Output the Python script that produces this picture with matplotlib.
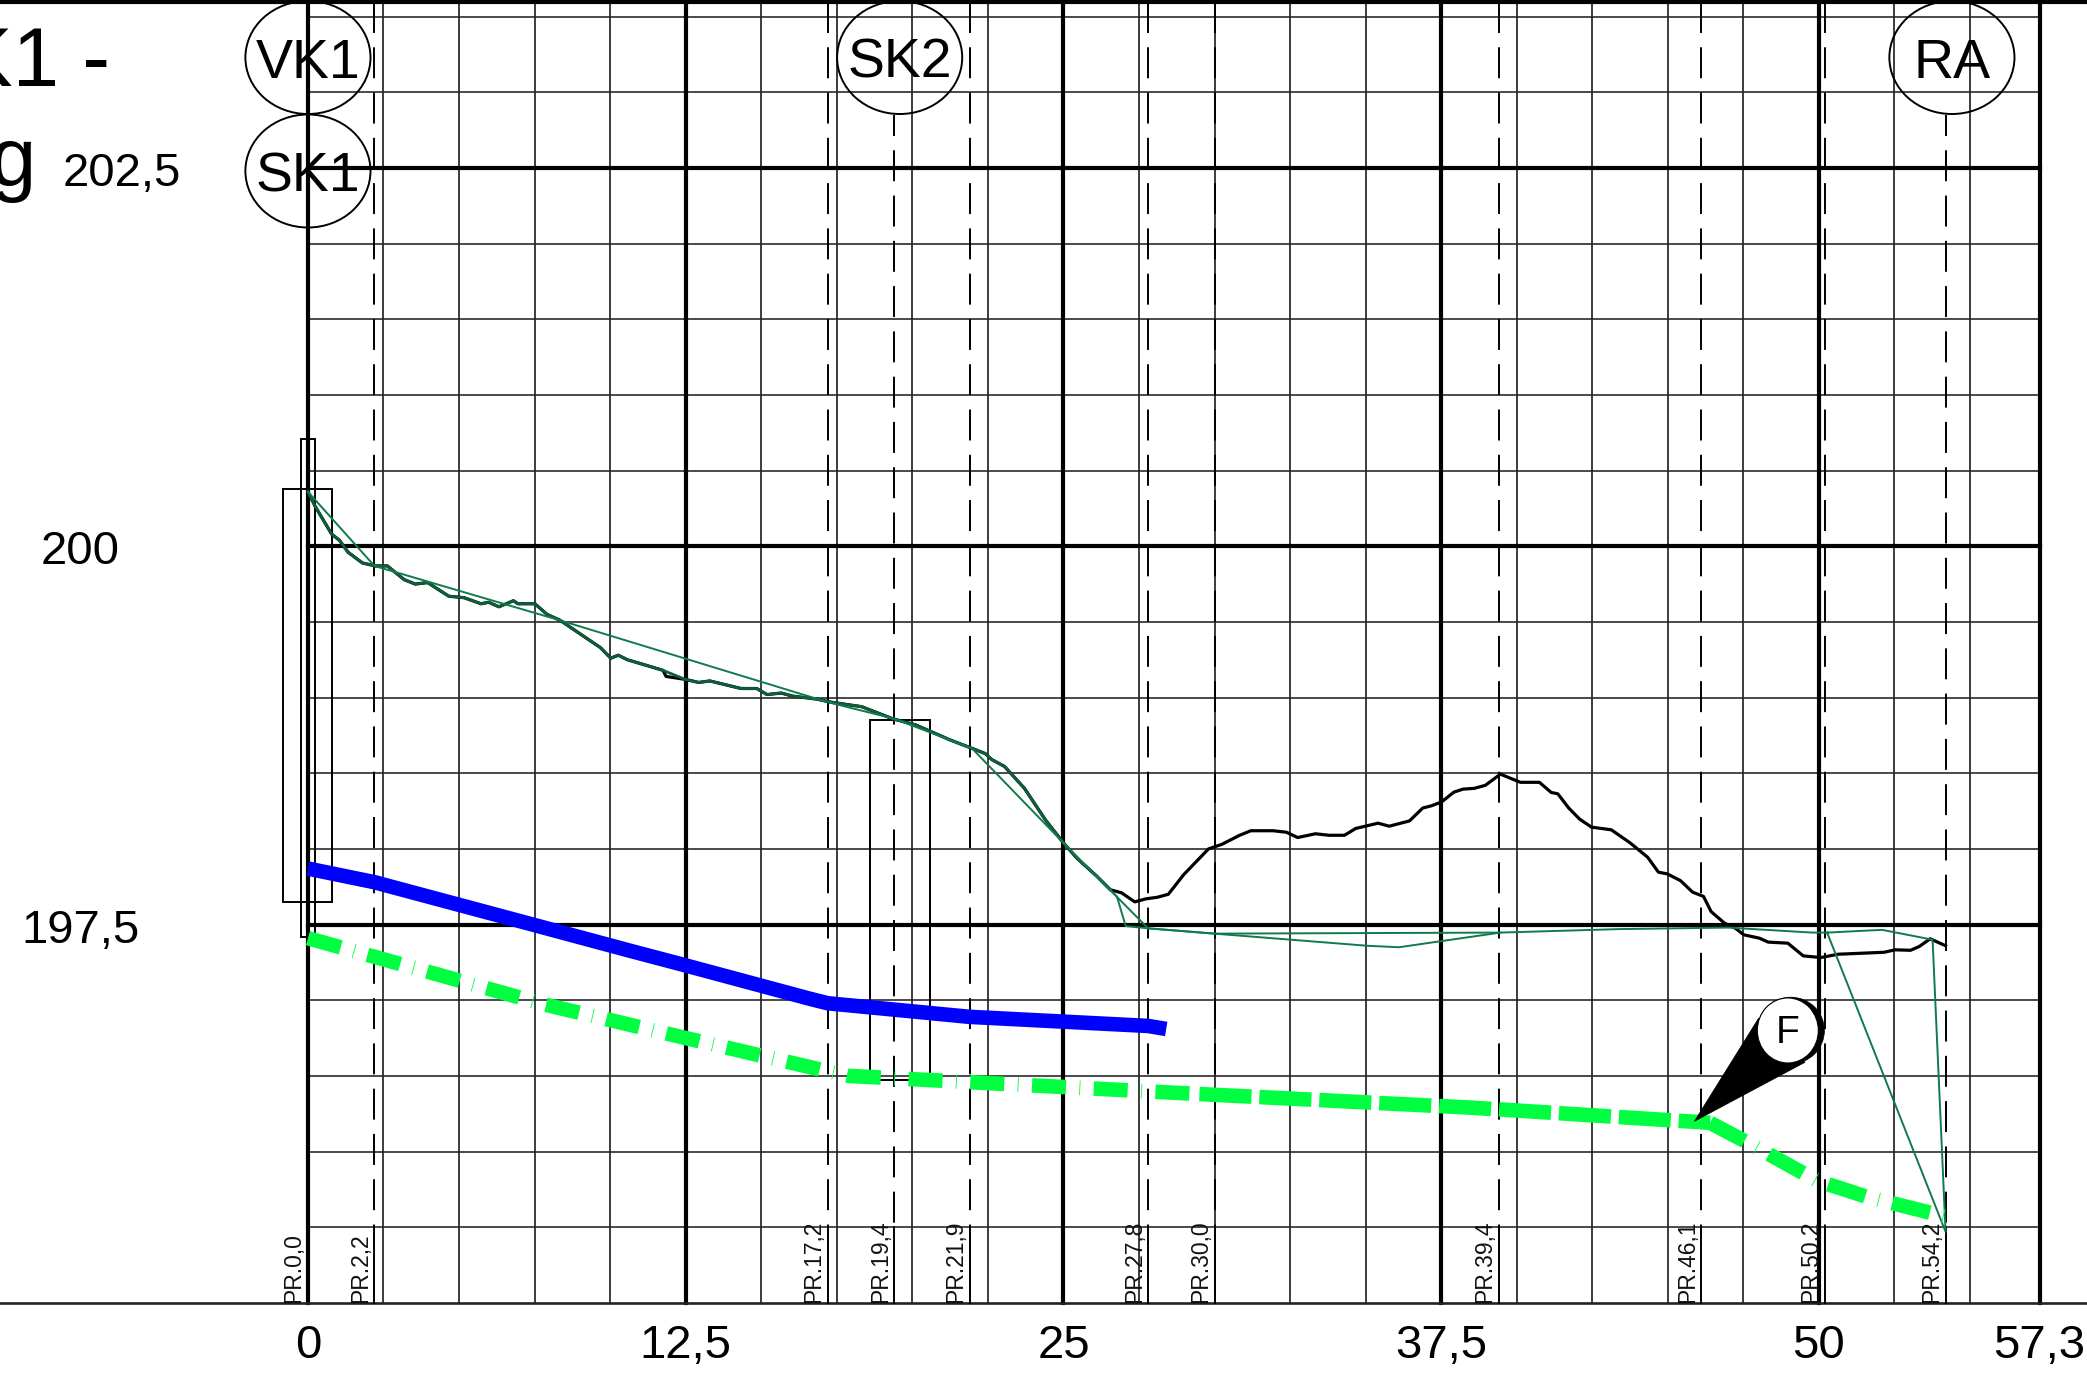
import matplotlib
matplotlib.use("Agg")
import matplotlib.pyplot as plt
from matplotlib.patches import Rectangle, Ellipse, Polygon

plt.rcParams['font.family'] = ['Liberation Sans Narrow', 'Liberation Sans', 'DejaVu Sans']
plt.rcParams['lines.scale_dashes'] = False

# laengdmaetning (m) och nivaer (m)
x_thick = [0, 12.5, 25, 37.5, 50, 57.3]
x_thin = [2.5, 5, 7.5, 10, 15, 17.5, 20, 22.5, 27.5, 30, 32.5, 35, 40, 42.5, 45, 47.5, 52.5, 55]
y_thick = [197.5, 200, 202.5]
y_thin = [195.5, 196, 196.5, 197, 198, 198.5, 199, 199.5, 200.5, 201, 201.5, 202, 203, 203.5]

x_tick_labels = ['0', '12,5', '25', '37,5', '50', '57,3']
y_tick_values = [202.5, 200, 197.5]
y_tick_labels = ['202,5', '200', '197,5']
y_tick_x = [-6.15, -7.54, -7.54]

pr_values = [0.0, 2.2, 17.2, 19.4, 21.9, 27.8, 30.0, 39.4, 46.1, 50.2, 54.2]
pr_labels = ['PR.0,0', 'PR.2,2', 'PR.17,2', 'PR.19,4', 'PR.21,9', 'PR.27,8',
             'PR.30,0', 'PR.39,4', 'PR.46,1', 'PR.50,2', 'PR.54,2']

# markprofil
terrain_x = [0.0, 0.25, 0.785, 1.04, 1.33, 1.80, 2.22, 2.63, 3.18, 3.55, 3.96, 4.66, 5.17, 5.73,
             5.98, 6.32, 6.80, 6.95, 7.51, 7.91, 8.35, 8.94, 9.31, 9.68, 10.02, 10.27, 10.57,
             11.08, 11.75, 11.85, 12.49, 12.93, 13.3, 14.33, 14.85, 15.19, 15.66, 16.03, 16.84,
             17.29, 18.32, 19.35, 20.1, 21.25, 21.97, 22.41, 22.63, 23.05, 23.71, 24.41, 25.0,
             25.44, 26.1, 26.55, 26.92, 27.36, 27.73, 28.1, 28.47, 28.98, 29.8, 30.24, 30.83,
             31.2, 31.94, 32.38, 32.75, 33.34, 33.79, 34.3, 34.67, 35.41, 35.78, 36.45, 36.89,
             37.18, 37.51, 37.92, 38.22, 38.59, 38.96, 39.46, 40.12, 40.75, 41.14, 41.36, 41.72,
             42.08, 42.47, 43.13, 43.75, 44.33, 44.69, 44.98, 45.42, 45.82, 46.18, 46.43, 46.87,
             47.23, 47.52, 48.03, 48.32, 48.97, 49.48, 50.06, 50.64, 51.36, 52.16, 52.52, 53.03,
             53.32, 53.68, 54.19]
terrain_y = [200.36, 200.26, 200.08, 200.04, 199.96, 199.89, 199.87, 199.87, 199.78, 199.75, 199.76,
             199.67, 199.66, 199.62, 199.63, 199.60, 199.64, 199.62, 199.62, 199.55, 199.51, 199.43,
             199.38, 199.33, 199.26, 199.28, 199.25, 199.22, 199.18, 199.14, 199.12, 199.10, 199.11,
             199.06, 199.06, 199.02, 199.03, 199.01, 198.99, 198.97, 198.94, 198.86, 198.82, 198.72,
             198.665, 198.63, 198.59, 198.545, 198.40, 198.19, 198.04, 197.94, 197.82, 197.73, 197.71,
             197.65, 197.67, 197.68, 197.70, 197.83, 198.0, 198.03, 198.09, 198.12, 198.12, 198.11,
             198.075, 198.10, 198.09, 198.09, 198.135, 198.17, 198.15, 198.185, 198.27, 198.285,
             198.31, 198.375, 198.395, 198.40, 198.42, 198.494, 198.44, 198.44, 198.373, 198.364,
             198.27, 198.197, 198.144, 198.126, 198.04, 197.945, 197.846, 197.835, 197.79, 197.714,
             197.686, 197.586, 197.51, 197.476, 197.432, 197.41, 197.384, 197.377, 197.293, 197.282,
             197.304, 197.31, 197.317, 197.333, 197.33, 197.355, 197.406, 197.36]

# tunn gron linje
thin_x = [0.0, 2.2, 8.35, 17.2, 19.4, 21.97, 25.0, 27.8, 30.0, 35.04, 36.1, 39.46, 43.39, 47.0,
          49.77, 50.27, 52.09, 53.76, 54.19, 50.27]
thin_y = [200.36, 199.87, 199.51, 198.97, 198.86, 198.665, 198.04, 197.475, 197.44, 197.36, 197.35,
          197.447, 197.47, 197.48, 197.447, 197.447, 197.465, 197.40, 195.47, 197.447]
thin2_x = [26.55, 26.77, 27.06, 27.8, 30.0, 39.46]
thin2_y = [197.73, 197.685, 197.49, 197.475, 197.44, 197.447]

# ledningar
blue_x = [0.0, 2.2, 7.25, 10.6, 12.5, 16.6, 17.2, 21.9, 27.8, 28.4]
blue_y = [197.87, 197.78, 197.51, 197.33, 197.23, 197.01, 196.98, 196.89, 196.83, 196.81]
green1_x = [0.0, 7.87, 12.5, 17.0, 17.9, 29.5]
green1_y = [197.41, 196.97, 196.75, 196.54, 196.50, 196.38]
green2_x = [29.5, 38.5, 46.4]
green2_y = [196.38, 196.29, 196.19]
green3_x = [46.4, 48.1, 49.9, 51.6, 54.2]
green3_y = [196.19, 196.01, 195.81, 195.70, 195.57]

# rektanglar (x0, x1, y0, y1)
rect_a = [-0.81, 0.81, 197.65, 200.38]
rect_b = [-0.22, 0.22, 197.42, 200.71]
rect_c = [18.6, 20.58, 196.47, 198.85]

circle_labels = ['VK1', 'SK1', 'SK2', 'RA']
circle_x = [0.0, 0.0, 19.58, 54.4]
circle_y = [203.23, 202.48, 203.23, 203.23]

fig = plt.figure(figsize=(20.87, 13.77), dpi=100)
ax = fig.add_axes([0, 0, 1, 1])
ax.set_xlim(-10.19, 58.87)
ax.set_ylim(194.51, 203.61)
ax.axis('off')

thin_lw = 1.15
thick_lw = 3.0
top = 203.6

# rutnat
for x in x_thin:
    ax.plot([x, x], [195, top], color='#111111', lw=thin_lw, zorder=1)
for x in x_thick:
    ax.plot([x, x], [195, top], color='black', lw=thick_lw, zorder=2)
for y in y_thin:
    ax.plot([0, 57.3], [y, y], color='#222222', lw=thin_lw, zorder=1)
for y in y_thick:
    ax.plot([0, 57.3], [y, y], color='black', lw=thick_lw, zorder=2)
ax.plot([-10.19, 58.87], [195, 195], color='#222222', lw=1.9, zorder=2)
ax.plot([-10.19, 58.87], [top, top], color='black', lw=3.0, zorder=2)

# PR-linjer
dash = (0, (22.3, 10.3))
for val, lab in zip(pr_values, pr_labels):
    if val > 0:
        if val in (19.4, 54.2):
            ax.plot([val, val], [202.85, 195.5], color='black', lw=1.4, zorder=3,
                    linestyle=(7.2, (22.3, 10.3)))
        else:
            ax.plot([val, val], [top, 195.5], color='black', lw=1.4, zorder=3, linestyle=dash)
        ax.plot([val, val], [195, 195.5], color='black', lw=1.4, zorder=3)
    ax.text(val - 0.08, 195.0, lab, rotation=90, ha='right', va='bottom', fontsize=16.5,
            color='#111111', zorder=6)

# rektanglar
for r in [rect_a, rect_b, rect_c]:
    ax.add_patch(Rectangle((r[0], r[2]), r[1] - r[0], r[3] - r[2], fill=False,
                           edgecolor='black', lw=1.4, zorder=3))

# terrang och bearbetad yta
ax.plot(terrain_x, terrain_y, color='black', lw=2.3, zorder=4)
over_x = [a for a, b in zip(terrain_x, terrain_y) if a <= 26.55 and a != 11.85]
over_y = [b for a, b in zip(terrain_x, terrain_y) if a <= 26.55 and a != 11.85]
ax.plot(over_x, over_y, color='#0b5f3c', lw=2.0, zorder=5)
ax.plot(thin_x, thin_y, color='#0f7a4c', lw=1.4, zorder=5)
ax.plot(thin2_x, thin2_y, color='#0f7a4c', lw=1.4, zorder=5)

# ledningar
ax.plot(blue_x, blue_y, color='#0000ff', lw=10.5, solid_capstyle='butt', solid_joinstyle='round', zorder=7)
ax.plot(green1_x, green1_y, color='#00ff40', lw=10.5, dash_capstyle='butt', zorder=7,
        linestyle=(0, (24.5, 9.7, 0.6, 9.7)))
ax.plot(green2_x, green2_y, color='#00ff40', lw=10.5, dash_capstyle='butt', zorder=7,
        linestyle=(0, (37.5, 5.7)))
ax.plot(green3_x, green3_y, color='#00ff40', lw=10.5, dash_capstyle='butt', zorder=7,
        linestyle=(0, (28, 9.7, 0.6, 9.7)))

# cirklar
for lab, cx, cy in zip(circle_labels, circle_x, circle_y):
    ax.add_patch(Ellipse((cx, cy), 4.14, 0.747, fill=False, edgecolor='black', lw=1.4, zorder=6))
    ax.text(cx, cy - 0.04, lab, ha='center', va='center', fontsize=40, zorder=8,
            family=['Liberation Sans', 'DejaVu Sans'])

# F-markering
ax.add_patch(Polygon([(45.88, 196.2), (48.0, 196.88), (49.54, 196.59)], closed=True,
                     facecolor='black', edgecolor='black', lw=0.5, zorder=8))
ax.add_patch(Ellipse((49.07, 196.80), 2.22, 0.44, facecolor='black', edgecolor='black', lw=0.5, zorder=8))
ax.add_patch(Ellipse((48.97, 196.80), 2.02, 0.43, facecolor='white', edgecolor='black', lw=0.8, zorder=9))
ax.text(48.97, 196.785, 'F', ha='center', va='center', fontsize=28, zorder=10)

# axeltexter
for x, lab in zip(x_thick, x_tick_labels):
    ax.text(x, 194.715, lab, ha='center', va='center', fontsize=34)
for y, lab, xt in zip(y_tick_values, y_tick_labels, y_tick_x):
    ax.text(xt, y - 0.04, lab, ha='center', va='center', fontsize=34)

# avklippt rubrik
ax.text(-6.55, 203.04, 'K1 -', ha='right', va='baseline', fontsize=60,
        family=['Liberation Sans', 'DejaVu Sans'])
ax.text(-9.0, 202.38, 'g', ha='right', va='baseline', fontsize=60,
        family=['Liberation Sans', 'DejaVu Sans'])

fig.savefig('out.png', dpi=100, facecolor='white')
